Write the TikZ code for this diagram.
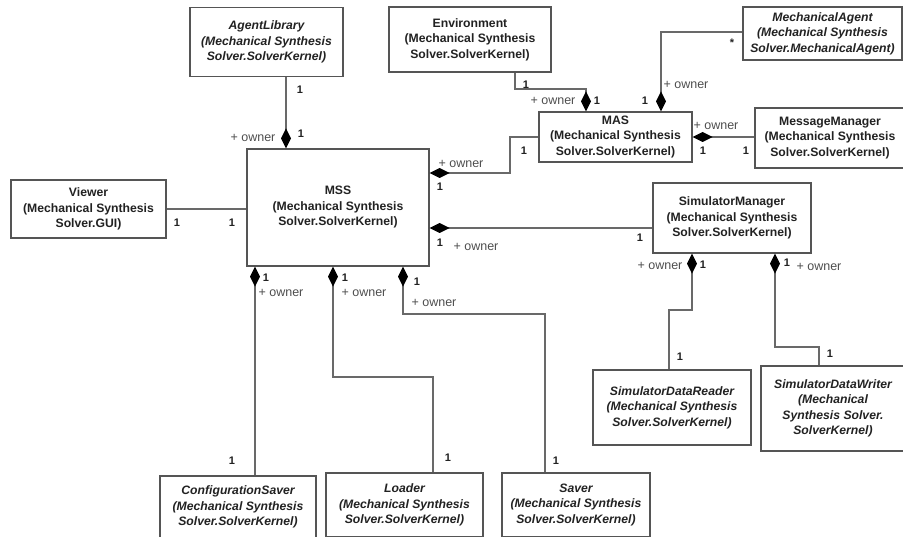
\documentclass[tikz,border=0pt]{standalone}
\usepackage{fontspec}
\setmainfont{Liberation Sans}
\usepackage{xcolor}
\usepackage{tikz}
\usetikzlibrary{arrows.meta,calc}
\definecolor{ink}{RGB}{34,34,34}
\definecolor{boxgray}{RGB}{85,85,85}
\definecolor{linegray}{RGB}{105,105,105}
\tikzset{
  cls/.style={draw=boxgray,line width=1.1pt,fill=white,align=center,text=ink,
    inner sep=0pt,font=\bfseries\fontsize{12.2}{15.5}\selectfont},
  abscls/.style={cls,font=\bfseries\itshape\fontsize{12.2}{15.5}\selectfont},
  dims/.style 2 args={minimum width=#1,minimum height=#2},
  link/.style={draw=linegray,line width=1.1pt},
  comp/.style={link,{Diamond[length=20pt,width=10pt,color=black]}-},
  mult/.style={text=ink,inner sep=0pt,font=\bfseries\fontsize{11}{12}\selectfont},
  role/.style={text=ink!80,inner sep=0pt,font=\fontsize{12.5}{13}\selectfont}
}
\begin{document}
\begin{tikzpicture}[x=1pt,y=-1pt]
  \useasboundingbox (0,0) rectangle (903,537);
  % classes
  \node[abscls,dims={153pt}{69pt}] (agentlib) at (266.5,42)
    {AgentLibrary\\(Mechanical Synthesis\\Solver.SolverKernel)};
  \node[cls,dims={162pt}{65pt}] (env) at (470,39.5)
    {Environment\\(Mechanical Synthesis\\Solver.SolverKernel)};
  \node[abscls,dims={159pt}{53pt}] (mechagent) at (822.5,33.5)
    {MechanicalAgent\\(Mechanical Synthesis\\Solver.MechanicalAgent)};
  \node[cls,dims={153pt}{50pt}] (mas) at (615.5,137)
    {MAS\\(Mechanical Synthesis\\Solver.SolverKernel)};
  \node[cls,dims={150pt}{60pt}] (msgmgr) at (830,138)
    {MessageManager\\(Mechanical Synthesis\\Solver.SolverKernel)};
  \node[cls,dims={158pt}{70pt}] (simmgr) at (732,218)
    {SimulatorManager\\(Mechanical Synthesis\\Solver.SolverKernel)};
  \node[cls,dims={182pt}{117pt}] (mss) at (338,207.5)
    {MSS\\(Mechanical Synthesis\\Solver.SolverKernel)};
  \node[cls,dims={155pt}{58pt}] (viewer) at (88.5,209)
    {Viewer\\(Mechanical Synthesis\\Solver.GUI)};
  \node[abscls,dims={156pt}{62pt}] (confsaver) at (238,507)
    {ConfigurationSaver\\(Mechanical Synthesis\\Solver.SolverKernel)};
  \node[abscls,dims={157pt}{64pt}] (loader) at (404.5,505)
    {Loader\\(Mechanical Synthesis\\Solver.SolverKernel)};
  \node[abscls,dims={148pt}{64pt}] (saver) at (576,505)
    {Saver\\(Mechanical Synthesis\\Solver.SolverKernel)};
  \node[abscls,dims={158pt}{75pt}] (simreader) at (672,407.5)
    {SimulatorDataReader\\(Mechanical Synthesis\\Solver.SolverKernel)};
  \node[abscls,dims={144pt}{85pt}] (simwriter) at (833,408.5)
    {SimulatorDataWriter\\(Mechanical\\Synthesis Solver.\\SolverKernel)};
  % lanes and bends
  \coordinate (allane) at (286,0);
  \coordinate (envbend) at (586,89);
  \coordinate (agbend) at (661,32);
  \coordinate (masbend) at (510,173);
  \coordinate (smlane) at (0,228);
  \coordinate (cslane) at (255,0);
  \coordinate (ldbend) at (333,377);
  \coordinate (svbend) at (403,314);
  \coordinate (rdbend) at (692,310);
  \coordinate (wrbend) at (775,347);
  % associations
  \draw[comp] (mss.north -| allane) -- (agentlib.south -| allane);
  \draw[link] (viewer.east) -- (viewer.east -| mss.west);
  \draw[comp] (mas.north -| envbend) -- (envbend) -| ([xshift=45pt]env.south);
  \draw[comp] (mas.north -| agbend) -- (agbend) -- (agbend -| mechagent.west);
  \draw[comp] (mas.east) -- (mas.east -| msgmgr.west);
  \draw[comp] (masbend -| mss.east) -- (masbend) |- (mas.west);
  \draw[comp] (smlane -| mss.east) -- (smlane -| simmgr.west);
  \draw[comp] (mss.south -| cslane) -- (confsaver.north -| cslane);
  \draw[comp] (mss.south -| ldbend) -- (ldbend) -| ([xshift=28.5pt]loader.north);
  \draw[comp] (mss.south -| svbend) -- (svbend) -| ([xshift=-31pt]saver.north);
  \draw[comp] (simmgr.south -| rdbend) -- (rdbend) -| ([xshift=-3pt]simreader.north);
  \draw[comp] (simmgr.south -| wrbend) -- (wrbend) -| ([xshift=-14pt]simwriter.north);
  % multiplicities and roles
  \node[mult] (alm1) at (300,90) {1};
  \node[mult] (alm2) at (301,134) {1};
  \node[role] (alr) at (253,138) {+ owner};
  \node[mult] (vwm1) at (177,223) {1};
  \node[mult] (vwm2) at (232,223) {1};
  \node[mult] (envm1) at (526,85) {1};
  \node[mult] (envm2) at (597,101) {1};
  \node[role] (envr) at (553,101) {+ owner};
  \node[mult] (agm1) at (732,43) {*};
  \node[mult] (agm2) at (645,101) {1};
  \node[role] (agr) at (686,85) {+ owner};
  \node[mult] (mgm1) at (703,151) {1};
  \node[mult] (mgm2) at (746,151) {1};
  \node[role] (mgr) at (716,126) {+ owner};
  \node[mult] (masm1) at (440,187) {1};
  \node[mult] (masm2) at (524,151) {1};
  \node[role] (masr) at (461,164) {+ owner};
  \node[mult] (smm1) at (440,243) {1};
  \node[mult] (smm2) at (640,238) {1};
  \node[role] (smr) at (476,247) {+ owner};
  \node[mult] (csm1) at (266,278) {1};
  \node[mult] (csm2) at (232,461) {1};
  \node[role] (csr) at (281,293) {+ owner};
  \node[mult] (ldm1) at (345,278) {1};
  \node[mult] (ldm2) at (448,458) {1};
  \node[role] (ldr) at (364,293) {+ owner};
  \node[mult] (svm1) at (417,282) {1};
  \node[mult] (svm2) at (556,461) {1};
  \node[role] (svr) at (434,303) {+ owner};
  \node[mult] (rdm1) at (703,265) {1};
  \node[mult] (rdm2) at (680,357) {1};
  \node[role] (rdr) at (660,266) {+ owner};
  \node[mult] (wrm1) at (787,263) {1};
  \node[mult] (wrm2) at (830,354) {1};
  \node[role] (wrr) at (819,267) {+ owner};
\end{tikzpicture}
\end{document}
